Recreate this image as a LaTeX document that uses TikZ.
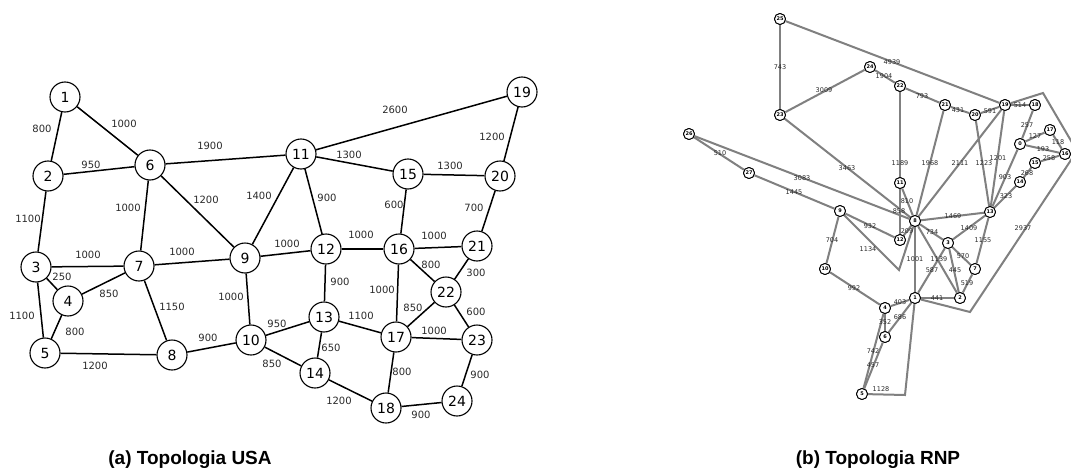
\documentclass[tikz,border=0pt]{standalone}
\usepackage{fontspec}
\setmainfont{DejaVu Sans}
\newfontfamily\capfont{Liberation Sans}
\definecolor{labc}{HTML}{2A2A2A}
\definecolor{redgec}{HTML}{808080}
\tikzset{
  unode/.style={circle,draw=black,line width=1.1pt,fill=white,minimum size=30pt,inner sep=0pt,font=\fontsize{14}{14}\selectfont},
  uedge/.style={line width=1.5pt,black},
  ulab/.style={inner sep=0pt,text=labc,font=\fontsize{10}{10}\selectfont},
  rnode/.style={circle,draw=black,line width=0.9pt,fill=white,minimum size=11pt,inner sep=0pt,font=\fontsize{5}{5}\selectfont\bfseries},
  redge/.style={line width=2pt,redgec,line join=miter},
  rlab/.style={inner sep=0pt,text=labc,font=\fontsize{6.5}{6.5}\selectfont},
  caption/.style={inner sep=0pt,font=\capfont\bfseries\fontsize{19}{19}\selectfont}
}
\begin{document}
\begin{tikzpicture}[x=1pt,y=-1pt]
\clip (0,0) rectangle (1071,471);
\fill[white] (0,0) rectangle (1071,471);
% ---------------- USA topology ----------------
\node[unode] (u1) at (65,97) {1};
\node[unode] (u2) at (48,176) {2};
\node[unode] (u3) at (36,267) {3};
\node[unode] (u4) at (68,301) {4};
\node[unode] (u5) at (45,353) {5};
\node[unode] (u6) at (150,165) {6};
\node[unode] (u7) at (139,266) {7};
\node[unode] (u8) at (172,355) {8};
\node[unode] (u9) at (245,258) {9};
\node[unode] (u10) at (251,340) {10};
\node[unode] (u11) at (301,154) {11};
\node[unode] (u12) at (326,249) {12};
\node[unode] (u13) at (324,317) {13};
\node[unode] (u14) at (315,373) {14};
\node[unode] (u15) at (408,174) {15};
\node[unode] (u16) at (399,249) {16};
\node[unode] (u17) at (396,337) {17};
\node[unode] (u18) at (386,408) {18};
\node[unode] (u19) at (522,92) {19};
\node[unode] (u20) at (500,176) {20};
\node[unode] (u21) at (477,246) {21};
\node[unode] (u22) at (446,292) {22};
\node[unode] (u23) at (477,340) {23};
\node[unode] (u24) at (457,401) {24};
\foreach \a/\b in {u1/u2,u1/u6,u2/u6,u6/u11,u2/u3,u6/u7,u6/u9,u11/u9,u11/u19,u11/u15,u11/u12,u15/u20,u19/u20,u15/u16,u20/u21,u3/u7,u7/u9,u9/u12,u12/u16,u16/u21,u3/u4,u4/u7,u16/u22,u21/u22,u3/u5,u4/u5,u7/u8,u9/u10,u12/u13,u16/u17,u22/u17,u22/u23,u5/u8,u8/u10,u10/u13,u13/u17,u17/u23,u10/u14,u13/u14,u17/u18,u23/u24,u14/u18,u18/u24}
  \draw[uedge] (\a) -- (\b);
\node[ulab] (l1) at (42,129) {800};
\node[ulab] (l2) at (124,124) {1000};
\node[ulab] (l3) at (91,165) {950};
\node[ulab] (l4) at (210,146) {1900};
\node[ulab] (l5) at (28,219) {1100};
\node[ulab] (l6) at (128,208) {1000};
\node[ulab] (l7) at (206,200) {1200};
\node[ulab] (l8) at (259,196) {1400};
\node[ulab] (l9) at (395,110) {2600};
\node[ulab] (l10) at (349,155) {1300};
\node[ulab] (l11) at (327,198) {900};
\node[ulab] (l12) at (450,166) {1300};
\node[ulab] (l13) at (492,137) {1200};
\node[ulab] (l14) at (394,205) {600};
\node[ulab] (l15) at (474,208) {700};
\node[ulab] (l16) at (88,255) {1000};
\node[ulab] (l17) at (182,252) {1000};
\node[ulab] (l18) at (287,244) {1000};
\node[ulab] (l19) at (361,235) {1000};
\node[ulab] (l20) at (434,236) {1000};
\node[ulab] (l21) at (62,277) {250};
\node[ulab] (l22) at (109,294) {850};
\node[ulab] (l23) at (431,265) {800};
\node[ulab] (l24) at (476,273) {300};
\node[ulab] (l25) at (22,316) {1100};
\node[ulab] (l26) at (75,332) {800};
\node[ulab] (l27) at (172,307) {1150};
\node[ulab] (l28) at (231,297) {1000};
\node[ulab] (l29) at (340,282) {900};
\node[ulab] (l30) at (382,290) {1000};
\node[ulab] (l31) at (413,308) {850};
\node[ulab] (l32) at (476,312) {600};
\node[ulab] (l33) at (95,366) {1200};
\node[ulab] (l34) at (208,338) {900};
\node[ulab] (l35) at (277,324) {950};
\node[ulab] (l36) at (361,316) {1100};
\node[ulab] (l37) at (434,331) {1000};
\node[ulab] (l38) at (272,364) {850};
\node[ulab] (l39) at (331,348) {650};
\node[ulab] (l40) at (402,372) {800};
\node[ulab] (l41) at (480,375) {900};
\node[ulab] (l42) at (339,401) {1200};
\node[ulab] (l43) at (421,415) {900};
\node[caption] (capa) at (190,460) {(a) Topologia USA};
% ---------------- RNP topology ----------------
\coordinate (k1) at (899,270);
\coordinate (k2) at (1043,93);
\coordinate (k3) at (1077,151);
\coordinate (k4) at (970,312);
\coordinate (k5) at (905,395);
\node[rnode] (r0) at (1020,144) {0};
\node[rnode] (r1) at (915,298) {1};
\node[rnode] (r2) at (960,298) {2};
\node[rnode] (r3) at (948,243) {3};
\node[rnode] (r4) at (885,308) {4};
\node[rnode] (r5) at (862,394) {5};
\node[rnode] (r6) at (885,337) {6};
\node[rnode] (r7) at (975,269) {7};
\node[rnode] (r8) at (915,221) {8};
\node[rnode] (r9) at (840,211) {9};
\node[rnode] (r10) at (825,269) {10};
\node[rnode] (r11) at (900,183) {11};
\node[rnode] (r12) at (900,240) {12};
\node[rnode] (r13) at (990,212) {13};
\node[rnode] (r14) at (1020,182) {14};
\node[rnode] (r15) at (1035,163) {15};
\node[rnode] (r16) at (1065,154) {16};
\node[rnode] (r17) at (1050,130) {17};
\node[rnode] (r18) at (1035,105) {18};
\node[rnode] (r19) at (1005,105) {19};
\node[rnode] (r20) at (975,115) {20};
\node[rnode] (r21) at (945,105) {21};
\node[rnode] (r22) at (900,86) {22};
\node[rnode] (r23) at (780,115) {23};
\node[rnode] (r24) at (870,67) {24};
\node[rnode] (r25) at (780,19) {25};
\node[rnode] (r26) at (689,134) {26};
\node[rnode] (r27) at (749,173) {27};
\foreach \a/\b in {r25/r23,r25/r19,r23/r24,r24/r22,r22/r21,r21/r20,r20/r19,r19/r18,r23/r8,r26/r8,r26/r27,r27/r9,r9/r12,r9/r10,r10/r4,r11/r8,r11/r12,r22/r11,r12/r8,r21/r8,r19/r8,r20/r13,r19/r13,r0/r13,r14/r13,r18/r0,r0/r17,r0/r16,r17/r16,r15/r16,r15/r14,r13/r8,r13/r3,r13/r7,r8/r3,r3/r7,r3/r1,r3/r2,r8/r2,r8/r1,r7/r2,r1/r2,r1/r4,r1/r6,r4/r6,r4/r5,r6/r5}
  \draw[redge] (\a) -- (\b);
\draw[redge] (r9) -- (k1) -- (r8);
\draw[redge] (r19) -- (k2) -- (k3) -- (k4) -- (r1);
\draw[redge] (r5) -- (k5) -- (r1);
% redraw nodes on top of the connectors
\foreach \n/\x/\y in {0/1020/144,1/915/298,2/960/298,3/948/243,4/885/308,5/862/394,6/885/337,7/975/269,8/915/221,9/840/211,10/825/269,11/900/183,12/900/240,13/990/212,14/1020/182,15/1035/163,16/1065/154,17/1050/130,18/1035/105,19/1005/105,20/975/115,21/945/105,22/900/86,23/780/115,24/870/67,25/780/19,26/689/134,27/749/173}
  \node[rnode] at (\x,\y) {\n};
\node[rlab] at (780,67) {743};
\node[rlab] at (892,62) {4939};
\node[rlab] at (824,90) {3009};
\node[rlab] at (884,76) {1904};
\node[rlab] at (922,96) {793};
\node[rlab] at (958,110) {431};
\node[rlab] at (990,111) {591};
\node[rlab] at (1020,105) {514};
\node[rlab] at (847,168) {3463};
\node[rlab] at (802,178) {3083};
\node[rlab] at (720,153) {510};
\node[rlab] at (794,192) {1445};
\node[rlab] at (870,226) {932};
\node[rlab] at (868,249) {1134};
\node[rlab] at (832,240) {704};
\node[rlab] at (854,288) {992};
\node[rlab] at (907,201) {810};
\node[rlab] at (899,211) {858};
\node[rlab] at (907,231) {209};
\node[rlab] at (900,163) {1189};
\node[rlab] at (930,163) {1968};
\node[rlab] at (960,163) {2111};
\node[rlab] at (984,163) {1223};
\node[rlab] at (998,158) {1201};
\node[rlab] at (1005,177) {903};
\node[rlab] at (1006,196) {323};
\node[rlab] at (1027,125) {257};
\node[rlab] at (1035,136) {127};
\node[rlab] at (1043,149) {193};
\node[rlab] at (1058,142) {118};
\node[rlab] at (1049,158) {258};
\node[rlab] at (1027,173) {268};
\node[rlab] at (1023,228) {2937};
\node[rlab] at (953,216) {1469};
\node[rlab] at (969,228) {1409};
\node[rlab] at (983,240) {1155};
\node[rlab] at (932,232) {734};
\node[rlab] at (963,256) {570};
\node[rlab] at (932,270) {587};
\node[rlab] at (955,270) {445};
\node[rlab] at (939,259) {1139};
\node[rlab] at (915,259) {1001};
\node[rlab] at (967,283) {519};
\node[rlab] at (937,298) {441};
\node[rlab] at (900,302) {403};
\node[rlab] at (900,317) {686};
\node[rlab] at (885,322) {352};
\node[rlab] at (873,351) {742};
\node[rlab] at (873,365) {457};
\node[rlab] at (881,389) {1128};
\node[caption] (capb) at (878,460) {(b) Topologia RNP};
\end{tikzpicture}
\end{document}
